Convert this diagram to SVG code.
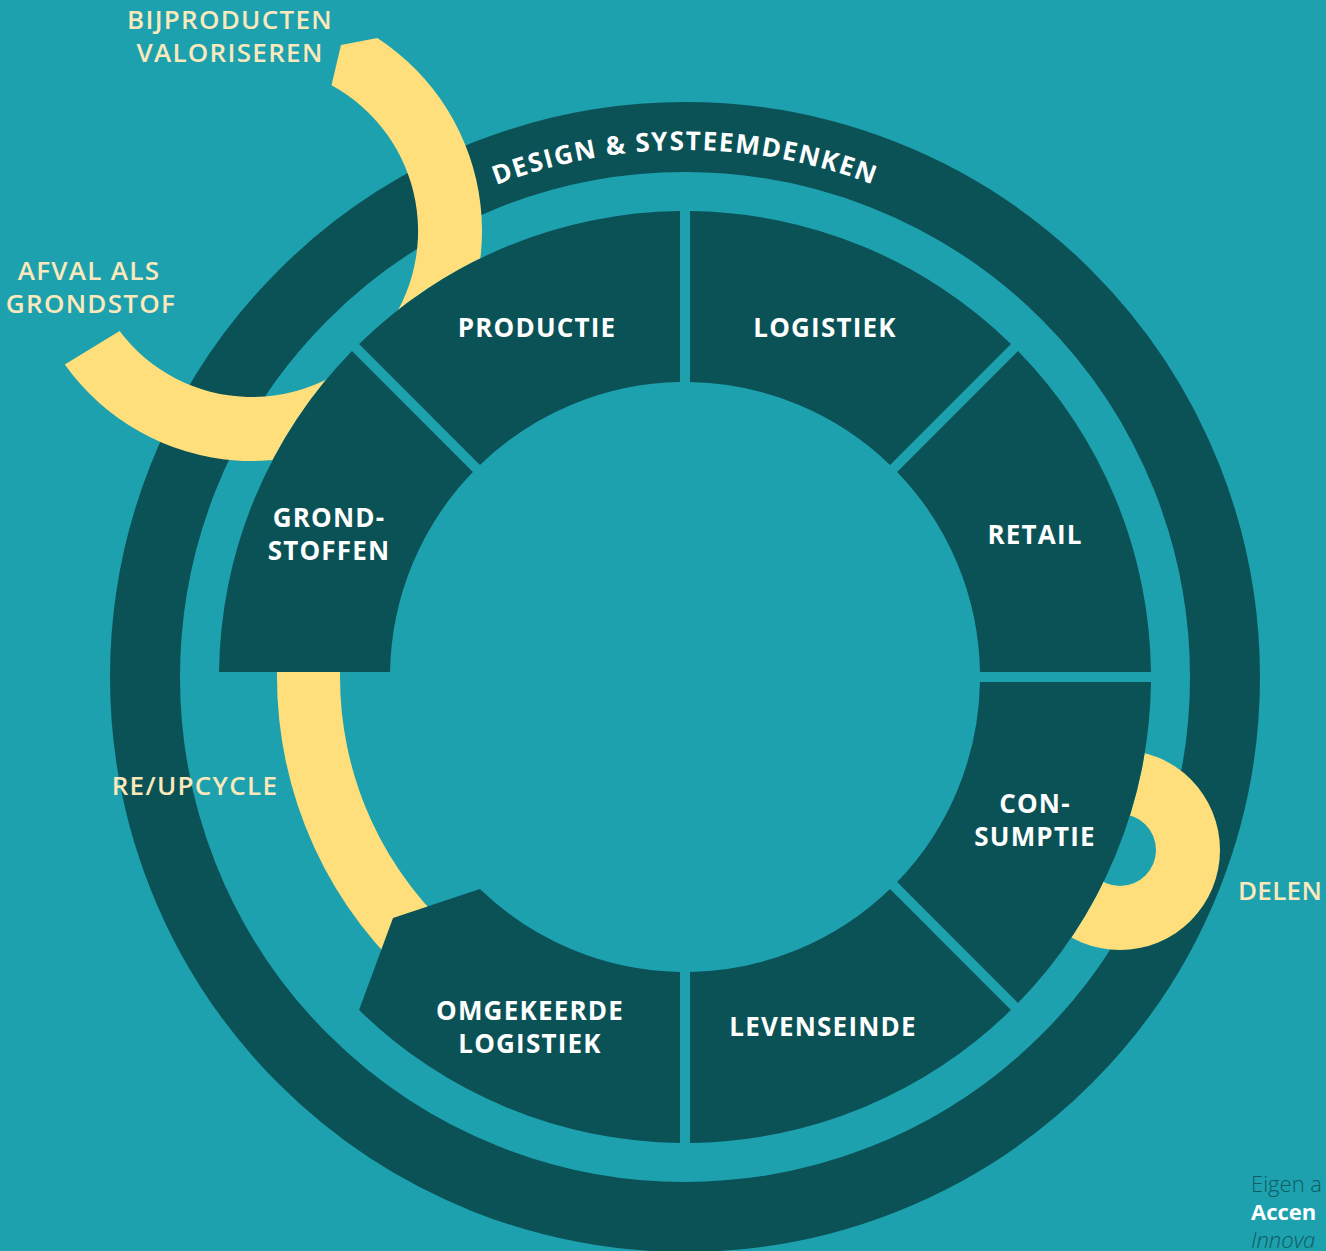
<svg xmlns="http://www.w3.org/2000/svg" width="1326" height="1251" viewBox="0 0 1326 1251">
  <style>
    .seg { fill: #0b5257; }
    .yel { fill: #ffdf7b; }
    .lbl { font-family: "Open Sans", "Liberation Sans", sans-serif; font-weight: 700; font-size: 26px; fill: #ffffff; text-anchor: middle; letter-spacing: 1.2px; }
    .ylbl { font-family: "Open Sans", "Liberation Sans", sans-serif; font-weight: 600; font-size: 26px; fill: #fbe9bb; text-anchor: middle; letter-spacing: 1.3px; }
    .ring { font-family: "Open Sans", "Liberation Sans", sans-serif; font-weight: 700; font-size: 26px; fill: #ffffff; letter-spacing: 1.6px; }
    .src { font-family: "Open Sans", "Liberation Sans", sans-serif; font-size: 22px; }
  </style>
  <defs>
    <mask id="outside" maskUnits="userSpaceOnUse" x="0" y="0" width="1326" height="1251">
      <rect x="0" y="0" width="1326" height="1251" fill="#ffffff"/>
      <circle cx="685" cy="677" r="466" fill="#000000"/>
    </mask>
    <path id="ringArc" d="M 158 677 A 527 527 0 0 1 1212 677"/>
  </defs>

  <rect x="0" y="0" width="1326" height="1251" fill="#1ea1af"/>

  <g id="outer-ring">
    <circle cx="685" cy="677" r="540" fill="none" stroke="#0b5257" stroke-width="70"/>
    <text class="ring"><textPath href="#ringArc" startOffset="50%" text-anchor="middle">DESIGN &amp; SYSTEEMDENKEN</textPath></text>
  </g>

  <g id="connectors">
    <g id="bijproducten-afval-arc" mask="url(#outside)">
      <path class="yel" d="M 377.3 38.1 A 230 230 0 1 1 64.8 364.6 L 119.6 331.1 A 166 166 0 1 0 331.5 85.3 L 341 45 Z"/>
    </g>
    <g id="delen-arc" mask="url(#outside)">
      <path class="yel" fill-rule="evenodd" d="M 1220 850 A 100 100 0 1 1 1020 850 A 100 100 0 1 1 1220 850 Z M 1156 850 A 36 36 0 1 0 1084 850 A 36 36 0 1 0 1156 850 Z"/>
    </g>
    <g id="reupcycle-arc">
      <path class="yel" d="M 277.03 672 A 408 408 0 0 0 422.74 989.55 L 463.24 941.29 A 345 345 0 0 1 340.04 672 Z"/>
    </g>
  </g>

  <g id="productie">
    <path class="seg" d="M 359.05 343.97 A 466 466 0 0 1 680 211.03 L 680 382.04 A 295 295 0 0 0 479.97 464.89 Z"/>
    <text class="lbl" x="537" y="337">PRODUCTIE</text>
  </g>
  <g id="logistiek">
    <path class="seg" d="M 690 211.03 A 466 466 0 0 1 1010.95 343.97 L 890.03 464.89 A 295 295 0 0 0 690 382.04 Z"/>
    <text class="lbl" x="825" y="337">LOGISTIEK</text>
  </g>
  <g id="retail">
    <path class="seg" d="M 1018.03 351.05 A 466 466 0 0 1 1150.97 672 L 979.96 672 A 295 295 0 0 0 897.11 471.97 Z"/>
    <text class="lbl" x="1035" y="544">RETAIL</text>
  </g>
  <g id="consumptie">
    <path class="seg" d="M 1150.97 682 A 466 466 0 0 1 1018.03 1002.95 L 897.11 882.03 A 295 295 0 0 0 979.96 682 Z"/>
    <text class="lbl" x="1035" y="813">CON-</text>
    <text class="lbl" x="1035" y="846">SUMPTIE</text>
  </g>
  <g id="levenseinde">
    <path class="seg" d="M 1010.95 1010.03 A 466 466 0 0 1 690 1142.97 L 690 971.96 A 295 295 0 0 0 890.03 889.11 Z"/>
    <text class="lbl" x="823" y="1036">LEVENSEINDE</text>
  </g>
  <g id="omgekeerde-logistiek">
    <path class="seg" d="M 680 1142.97 A 466 466 0 0 1 359.05 1010.03 L 393 918 L 479.97 889.11 A 295 295 0 0 0 680 971.96 Z"/>
    <text class="lbl" x="530" y="1020">OMGEKEERDE</text>
    <text class="lbl" x="530" y="1053">LOGISTIEK</text>
  </g>
  <g id="grondstoffen">
    <path class="seg" d="M 219.03 672 A 466 466 0 0 1 351.97 351.05 L 472.89 471.97 A 295 295 0 0 0 390.04 672 Z"/>
    <text class="lbl" x="329" y="527">GROND-</text>
    <text class="lbl" x="329" y="560">STOFFEN</text>
  </g>

  <g id="label-bijproducten">
    <text class="ylbl" x="230" y="29">BIJPRODUCTEN</text>
    <text class="ylbl" x="230" y="62">VALORISEREN</text>
  </g>
  <g id="label-afval">
    <text class="ylbl" x="89" y="280">AFVAL ALS</text>
    <text class="ylbl" x="91" y="313">GRONDSTOF</text>
  </g>
  <g id="label-reupcycle">
    <text class="ylbl" x="195" y="795">RE/UPCYCLE</text>
  </g>
  <g id="label-delen">
    <text class="ylbl" x="1238" y="900" style="text-anchor:start;letter-spacing:0.3px">DELEN</text>
  </g>

  <g id="source">
    <text class="src" x="1251" y="1192" font-weight="300" fill="#0d5d63">Eigen a</text>
    <text class="src" x="1251" y="1220" font-weight="700" fill="#ffffff">Accen</text>
    <text class="src" x="1251" y="1248" font-weight="300" font-style="italic" fill="#0d5d63">Innova</text>
  </g>
</svg>
